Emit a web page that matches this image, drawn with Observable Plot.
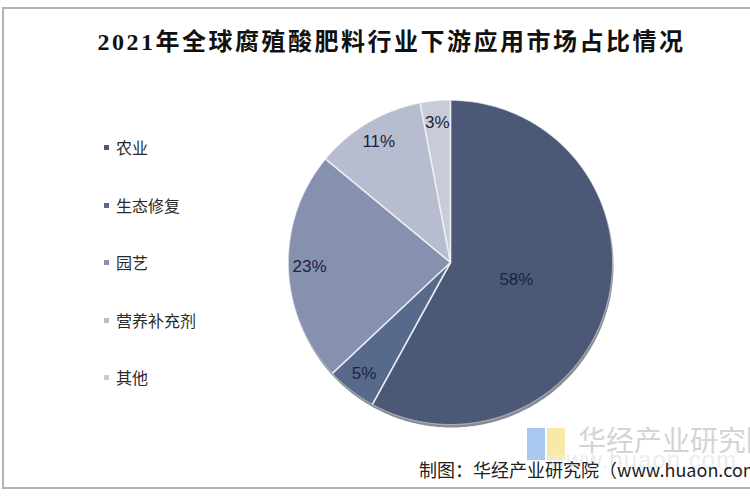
<!DOCTYPE html>
<html>
<head>
<meta charset="utf-8">
<script src="https://cdn.jsdelivr.net/npm/d3@7"></script>
<script src="https://cdn.jsdelivr.net/npm/@observablehq/plot@0.6"></script>
<style>
  html, body { margin: 0; padding: 0; background: #fff; }
  #wrap { position: relative; width: 750px; height: 500px; overflow: hidden; background: #fff; }
  #frame { position: absolute; left: 2px; top: 7px; width: 760px; height: 482px; border: 2px solid #b4b4b4; border-right: none; box-sizing: border-box; }
  #title { position: absolute; left: 0; width: 783px; top: 22px; text-align: center; font-family: "Liberation Serif", "Noto Sans CJK SC", serif; font-weight: bold; font-size: 24px; letter-spacing: 2.5px; color: #111; }
  #chart { position: absolute; left: 0; top: 0; }
  .leg { position: absolute; left: 104px; font-family: "Noto Sans CJK SC", sans-serif; font-size: 16px; color: #2a2a2a; line-height: 20px; height: 20px; }
  .leg span.sw { display: inline-block; width: 5px; height: 5px; margin-right: 7px; vertical-align: middle; position: relative; top: -2px; }
  #source { position: absolute; left: 419px; top: 456px; font-family: "Noto Sans CJK SC", sans-serif; font-size: 18px; color: #222; white-space: nowrap; }
  #wm { position: absolute; left: 578px; top: 419px; font-family: "Noto Sans CJK SC", sans-serif; font-size: 28px; color: #d4d4d4; white-space: nowrap; }
  #wm2 { position: absolute; left: 548px; top: 446px; font-family: "Liberation Sans", sans-serif; font-size: 24px; color: #ececec; white-space: nowrap; letter-spacing: 1px; }
  #logo1 { position: absolute; left: 527px; top: 428px; width: 18px; height: 32px; background: #a9c8ef; }
  #logo2 { position: absolute; left: 547px; top: 428px; width: 18px; height: 32px; background: #f7eaa8; }
</style>
</head>
<body>
<div id="wrap">
  <div id="frame"></div>
  <div id="chart"></div>
  <div id="title"></div>
  <div id="legend"></div>
  <div id="logo1"></div><div id="logo2"></div>
  <div id="wm2">www.huaon.com</div>
  <div id="wm">华经产业研究院</div>
  <div id="source"></div>
</div>
<script>
const titleText = "2021年全球腐殖酸肥料行业下游应用市场占比情况";
const sourceText = "制图：华经产业研究院（www.huaon.com）";
const categories = ["农业", "生态修复", "园艺", "营养补充剂", "其他"];
const shares = [58, 5, 23, 11, 3];
const colors = ["#4b5977", "#586a8b", "#8591af", "#b7bdcf", "#c8ccd8"];

document.getElementById("title").textContent = titleText;
document.getElementById("source").textContent = sourceText;

// Legend
const legend = document.getElementById("legend");
const legTops = [137, 195, 252, 310, 367];
categories.forEach((c, i) => {
  const d = document.createElement("div");
  d.className = "leg";
  d.style.top = legTops[i] + "px";
  const sw = document.createElement("span");
  sw.className = "sw";
  sw.style.background = colors[i];
  d.appendChild(sw);
  d.appendChild(document.createTextNode(c));
  legend.appendChild(d);
});

// Pie geometry from data
const arcs = d3.pie().sort(null).value((d) => d.value).startAngle(0)(
  categories.map((name, i) => ({name, value: shares[i]}))
);
const pts = [];
arcs.forEach((a) => {
  pts.push({name: a.data.name, x: 0, y: 0});
  const n = Math.max(2, Math.ceil((a.endAngle - a.startAngle) / 0.01));
  for (let k = 0; k <= n; k++) {
    const t = a.startAngle + (a.endAngle - a.startAngle) * k / n;
    pts.push({name: a.data.name, x: Math.sin(t), y: Math.cos(t)});
  }
  pts.push({name: a.data.name, x: 0, y: 0});
});
const shadow = d3.range(0, 361, 1).map((deg) => {
  const t = deg * Math.PI / 180;
  return {x: Math.sin(t), y: Math.cos(t)};
});
const seps = arcs.map((a) => ({x2: Math.sin(a.startAngle), y2: Math.cos(a.startAngle)}));
const labels = arcs.map((a) => {
  const m = (a.startAngle + a.endAngle) / 2;
  const r = a.data.value > 50 ? 0.42 : 0.87;
  return {x: r * Math.sin(m), y: r * Math.cos(m), text: a.data.value + "%"};
});

const chart = Plot.plot({
  width: 750,
  height: 500,
  marginLeft: 288,
  marginRight: 138,
  marginTop: 100,
  marginBottom: 76,
  x: {domain: [-1, 1], axis: null},
  y: {domain: [-1, 1], axis: null},
  color: {domain: categories, range: colors},
  style: {background: "transparent"},
  marks: [
    Plot.line(shadow, {x: "x", y: "y", fill: "#2a2f3a", stroke: "none", dx: 1, dy: 3, fillOpacity: 0.55}),
    Plot.line(pts, {x: "x", y: "y", z: "name", fill: "name", stroke: "none", curve: "linear"}),
    Plot.line(shadow, {x: "x", y: "y", stroke: "#d8dce6", strokeWidth: 1, strokeOpacity: 0.6}),
    Plot.link(seps, {x1: 0, y1: 0, x2: "x2", y2: "y2", stroke: "#eef0f6", strokeWidth: 1.6}),
    Plot.text(labels, {x: "x", y: "y", text: "text", fill: "#1a2340", fontSize: 17, fontFamily: "Liberation Sans, Arial, sans-serif"})
  ]
});
document.getElementById("chart").appendChild(chart);
</script>
</body>
</html>
